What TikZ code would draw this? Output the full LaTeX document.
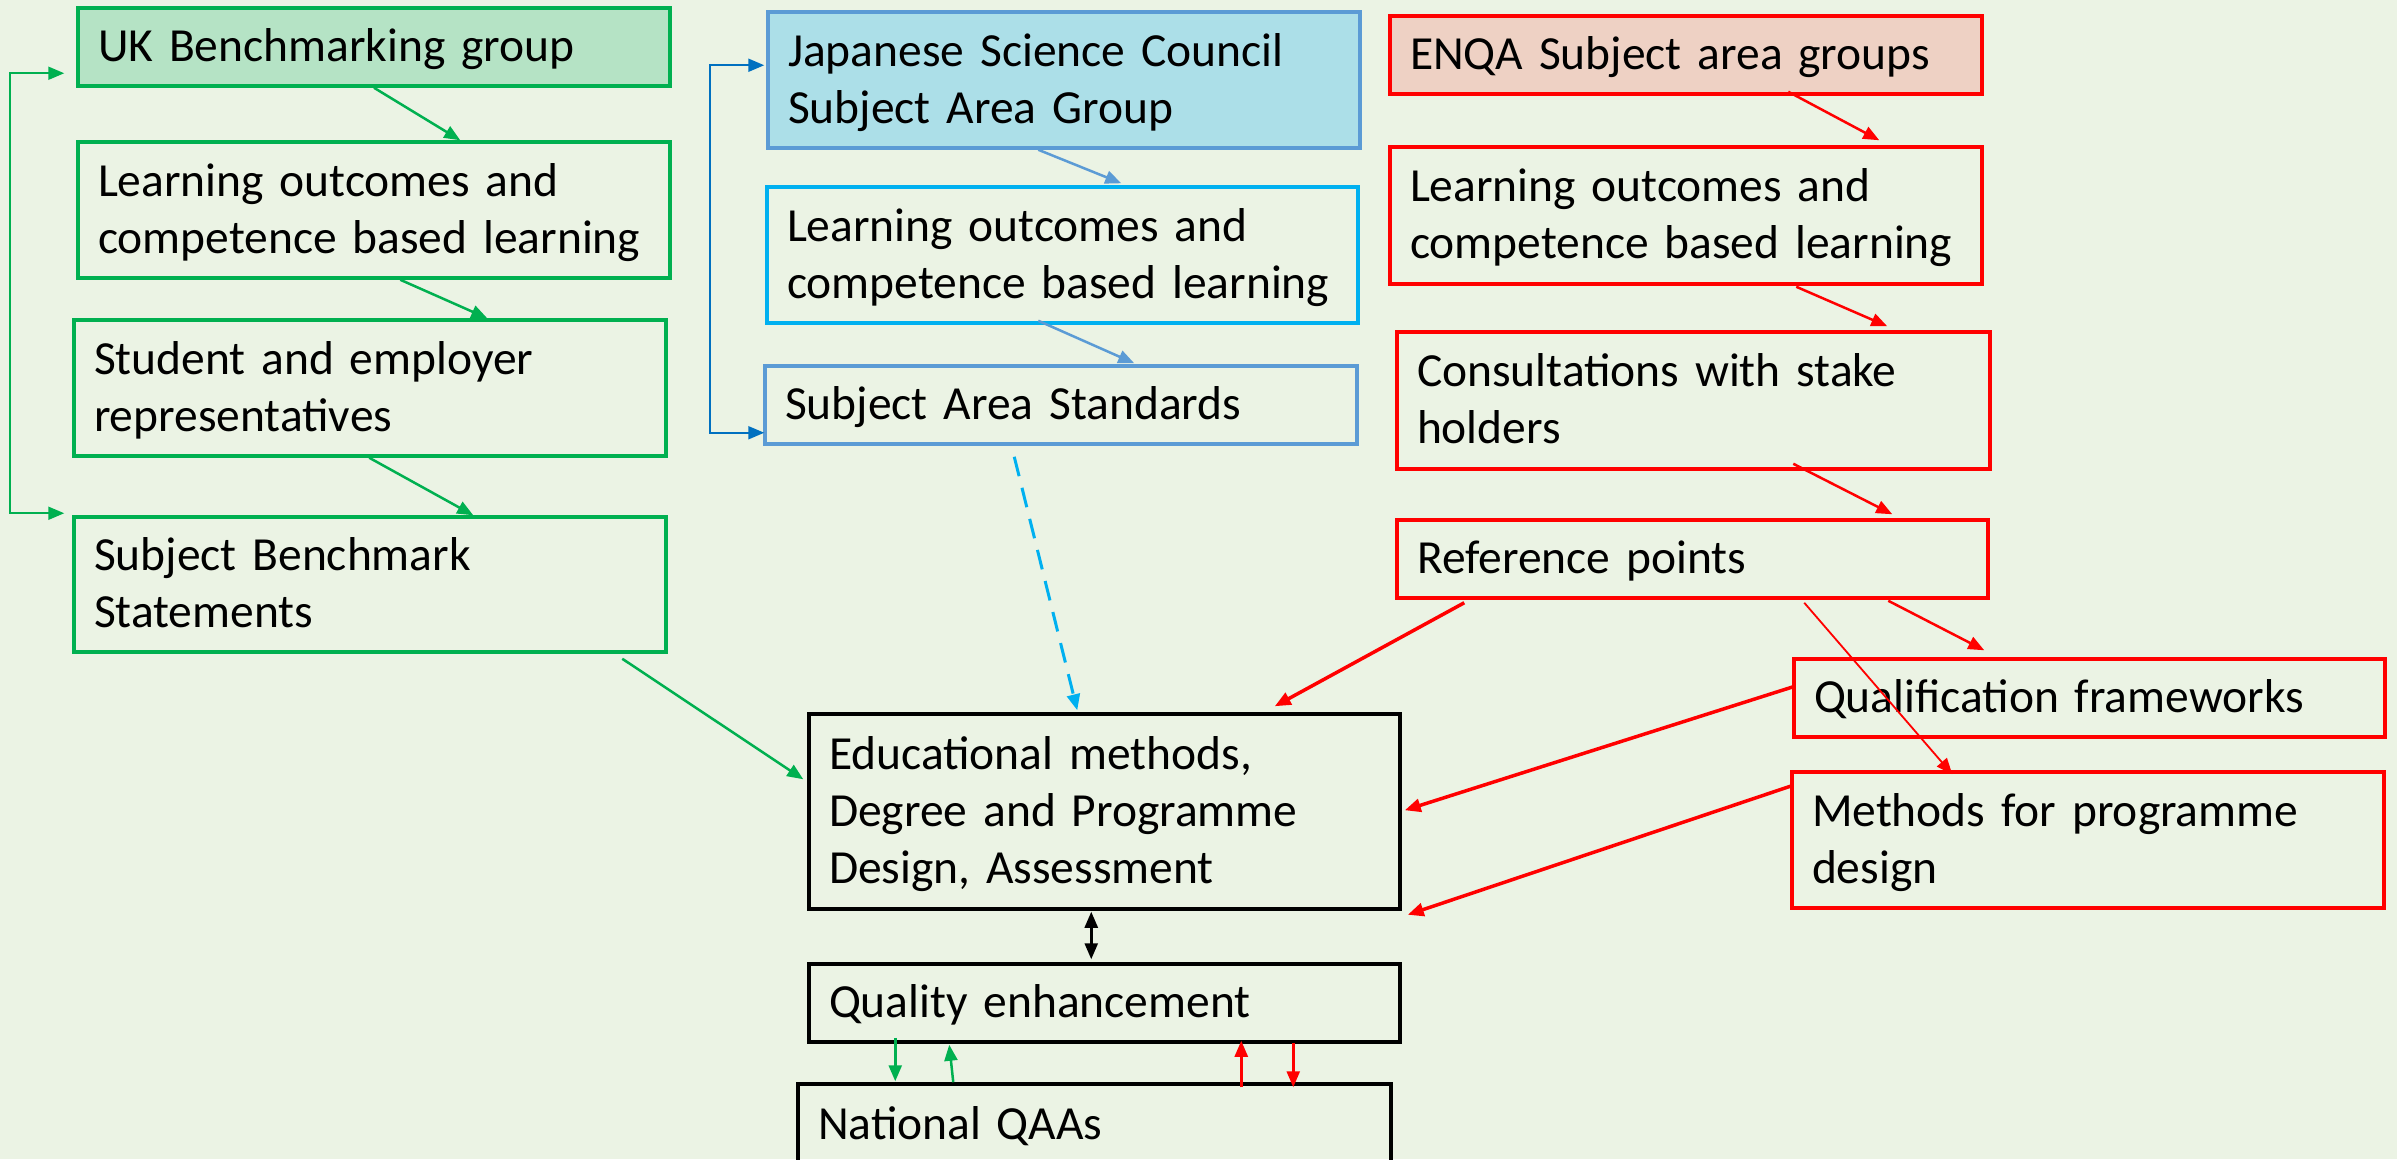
\documentclass[tikz,border=0pt]{standalone}
\usepackage{fontspec}
\setmainfont{Carlito}
\usetikzlibrary{arrows.meta,calc}
\definecolor{bgc}{HTML}{EBF3E4}
\definecolor{grn}{HTML}{00B050}
\definecolor{ukfill}{HTML}{B5E3C5}
\definecolor{jscfill}{HTML}{ACDFE8}
\definecolor{bluea}{HTML}{5B9BD5}
\definecolor{blueb}{HTML}{00B0F0}
\definecolor{bluec}{HTML}{0070C0}
\definecolor{enqafill}{HTML}{EED1C4}
\definecolor{rd}{HTML}{FF0000}
\tikzset{
  bx/.style={draw, line width=3.5pt, rectangle, inner xsep=20pt, inner ysep=0pt,
    align=left, anchor=center, text height=40pt,
    font=\fontsize{47.5}{57}\selectfont},
  one/.style={text depth=10.5pt},
  two/.style={text depth=67.5pt},
  three/.style={text depth=124.5pt},
  gb/.style={bx, draw=grn},
  rb/.style={bx, draw=rd},
  kb/.style={bx, draw=black},
  tip/.style={-{Triangle[length=16pt,width=13pt]}},
  both/.style={{Triangle[length=16pt,width=13pt]}-{Triangle[length=16pt,width=13pt]}},
  ga/.style={tip, draw=grn, line width=2.5pt},
  ra/.style={tip, draw=rd, line width=2.5pt},
  rthick/.style={ra, line width=3.5pt},
  ba/.style={tip, draw=bluea, line width=2.5pt},
}
\begin{document}
\begin{tikzpicture}[x=1pt,y=-1pt]
\useasboundingbox (0,0) rectangle (2397,1159);
\fill[bgc] (0,0) rectangle (2397,1159);

% UK column
\node[gb, one, fill=ukfill, minimum width=592pt, minimum height=78pt, text width=552pt] (uk) at (374,47) {UK Benchmarking group};
\node[gb, two, minimum width=592pt, minimum height=136pt, text width=552pt] (lo1) at (374,210) {Learning outcomes and\\competence based learning};
\node[gb, two, minimum width=592pt, minimum height=136pt, text width=552pt] (stu) at (370,388) {Student and employer\\representatives};
\node[gb, two, minimum width=592pt, minimum height=135pt, text width=552pt] (sbs) at (370,584.5) {Subject Benchmark\\Statements};

% Japanese column
\node[bx, draw=bluea, fill=jscfill, two, minimum width=592pt, minimum height=136pt, text width=552pt] (jsc) at (1064,80) {Japanese Science Council\\Subject Area Group};
\node[bx, two, draw=blueb, minimum width=591pt, minimum height=136pt, text width=551pt] (lo2) at (1062.5,255) {Learning outcomes and\\competence based learning};
\node[bx, one, draw=bluea, minimum width=592pt, minimum height=78pt, text width=552pt] (sas) at (1061,405) {Subject Area Standards};

% ENQA column
\node[rb, one, fill=enqafill, minimum width=592pt, minimum height=78pt, text width=552pt] (enqa) at (1686,55) {ENQA Subject area groups};
\node[rb, two, minimum width=592pt, minimum height=137pt, text width=552pt] (lo3) at (1686,215.5) {Learning outcomes and\\competence based learning};
\node[rb, two, minimum width=593pt, minimum height=137pt, text width=553pt] (con) at (1693.5,400.5) {Consultations with stake\\holders};
\node[rb, one, minimum width=591pt, minimum height=78pt, text width=551pt] (ref) at (1692.5,559) {Reference points};
\node[rb, one, minimum width=591pt, minimum height=78pt, text width=551pt] (qf) at (2089.5,698) {Qualification frameworks};
\node[rb, two, minimum width=592pt, minimum height=136pt, text width=552pt] (mpd) at (2088,840) {Methods for programme\\design};

% centre
\node[kb, three, minimum width=591pt, minimum height=195pt, text width=551pt] (edu) at (1104.5,811.5) {Educational methods,\\Degree and Programme\\Design, Assessment};
\node[kb, one, minimum width=591pt, minimum height=78pt, text width=551pt] (qe) at (1104.5,1003) {Quality enhancement};
\node[kb, one, minimum width=593pt, minimum height=81pt, text width=553pt] (nqaa) at (1094.5,1124.5) {National QAAs};

% green arrows
\draw[ga] (uk.south) -- ($(lo1.north west)+(384,0)$);
\draw[ga] ($(lo1.south west)+(324,0)$) -- ($(stu.north west)+(415,0)$);
\draw[ga] ($(stu.south west)+(297,0)$) -- ($(sbs.north west)+(401,0)$);
\draw[draw=grn, line width=2pt, both]
  ($(uk.south west)+(-12,-14.5)$) -- ++(-54,0) |- ($(sbs.north west)+(-8,-2)$);
\draw[ga] ($(sbs.south west)+(550,5)$) -- ($(edu.north west)+(-4,67)$);
\draw[ga] ($(qe.south west)+(88,-6)$) -- ($(nqaa.north west)+(99,-1)$);
\draw[ga] ($(nqaa.north west)+(157,0)$) -- ($(qe.south west)+(142,1)$);

% blue arrows
\draw[ba] ($(jsc.south west)+(272,0)$) -- ($(lo2.north west)+(356,-2)$);
\draw[ba] ($(lo2.south west)+(273,-4)$) -- ($(sas.north west)+(371,-1)$);
\draw[draw=bluec, line width=2pt, both]
  ($(jsc.north west)+(-2,55)$) -- ++(-54,0) |- ($(sas.south west)+(1,-13)$);
\draw[tip, draw=blueb, line width=3pt, dash pattern=on 20pt off 12pt]
  ($(sas.south west)+(251,11)$) -- ($(edu.north west)+(270,-2)$);

% red arrows
\draw[ra] ($(enqa.south west)+(400,-4)$) -- ($(lo3.north west)+(491,-5)$);
\draw[ra] ($(lo3.south west)+(408,1)$) -- ($(con.north west)+(492,-4)$);
\draw[ra] ($(con.south west)+(398,-7)$) -- ($(ref.north west)+(497,-4)$);
\draw[rthick] ($(ref.south west)+(69,3)$) -- ($(edu.north east)+(-127,-6)$);
\draw[ra] ($(ref.south west)+(493,1)$) -- ($(qf.north west)+(192,-7)$);
\draw[ra, line width=1.8pt] ($(ref.south west)+(409,3)$) -- ($(mpd.north west)+(162,4)$);
\draw[rthick] ($(qf.south west)+(1,-52)$) -- ($(edu.north east)+(3,98)$);
\draw[rthick] ($(mpd.north west)+(3,15)$) -- ($(edu.south east)+(6,4)$);
\draw[ra] ($(nqaa.north west)+(445,5)$) -- ($(qe.south west)+(434,-3)$);
\draw[ra] ($(qe.south west)+(486,-1)$) -- ($(nqaa.north west)+(497,5)$);

% black double arrow
\draw[line width=2.5pt, both]
  ($(edu.south west)+(284,1)$) -- ($(qe.north west)+(284,-3)$);
\end{tikzpicture}
\end{document}
